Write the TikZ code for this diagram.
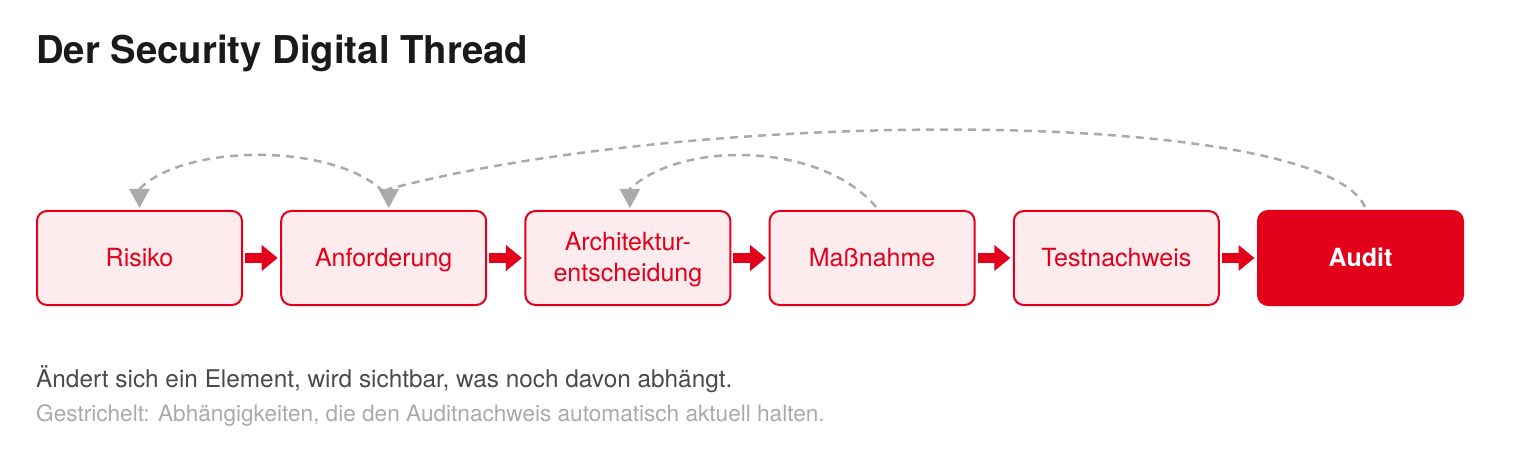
\documentclass[tikz,border=0pt]{standalone}
\usepackage{fontspec}
\setmainfont{TeX Gyre Heros}
\usepackage{tikz}
\usetikzlibrary{positioning,arrows.meta}
\definecolor{tred}{RGB}{226,0,26}
\definecolor{lred}{RGB}{253,235,238}
\definecolor{dgray}{RGB}{170,170,170}
\definecolor{tgray}{RGB}{74,74,74}
\definecolor{ttitle}{RGB}{26,26,26}
\tikzstyle{flow} = [line width=10pt, tred, -{Triangle[width=25pt,length=16pt]}, shorten <=3pt, shorten >=3.5pt]
\tikzset{
    block/.style={
        rectangle, rounded corners=10pt,
        minimum width=205pt, minimum height=94pt,
        outer sep=0pt, line width=2pt,
        align=center, text=tred,
        text height=18pt, text depth=0pt,
        font=\fontsize{25}{29}\selectfont,
        draw=tred, fill=lred
    },
    final/.style={
        block, fill=tred, text=white,
        font=\fontsize{25}{29}\selectfont\bfseries
    },
    dep connector/.style={
        line width=2.5pt, dgray,
        dash pattern=on 8pt off 6pt,
        -{Triangle[width=20pt,length=19pt]}
    },
    caption/.style={
        anchor=base west, inner sep=0pt
    }
}

\begin{document}
\begin{tikzpicture}[x=1pt, y=-1pt, node distance=39.2pt]
    \useasboundingbox (0,0) rectangle (1536,454);
    % title
    \node[caption, text=ttitle, font=\fontsize{38.3}{44}\selectfont\bfseries] (title) at (36,64) {Der Security Digital Thread};
    % thread
    \node[block] (ris) at (139.5,258) {Risiko};
    \node[block, right=of ris] (anf) {Anforderung};
    \node[block, right=of anf, text height=48pt] (arch) {Architektur-\\[2pt]entscheidung};
    \node[block, right=of arch] (mas) {Maßnahme};
    \node[block, right=of mas] (test) {Testnachweis};
    \node[final, right=of test] (audit) {Audit};
    \foreach \a/\b in {ris/anf, anf/arch, arch/mas, mas/test, test/audit}
        \draw[flow] (\a) -- (\b);
    % dependencies
    \draw[dep connector] ([yshift=19pt]anf.north) .. controls (335,143) and (185,143) .. ([yshift=22pt]ris.north) -- ([yshift=3pt]ris.north);
    \draw[dep connector] ([xshift=4pt,yshift=4pt]mas.north) .. controls (820,141) and (680,141) .. ([xshift=2pt,yshift=22pt]arch.north) -- ([xshift=2pt,yshift=3pt]arch.north);
    \draw[dep connector] ([xshift=4.5pt,yshift=4pt]audit.north) .. controls (1320,107) and (700,107) .. ([xshift=5pt,yshift=22pt]anf.north) -- ([xshift=5pt,yshift=3pt]anf.north);
    % notes
    \node[caption, text=tgray, font=\fontsize{24.35}{28}\selectfont] (note) at (36,387) {Ändert sich ein Element, wird sichtbar, was noch davon abhängt.};
    \node[caption, text=dgray, font=\fontsize{22.6}{26}\selectfont] (hint) at (36,421) {Gestrichelt: Abhängigkeiten, die den Auditnachweis automatisch aktuell halten.};
\end{tikzpicture}
\end{document}
